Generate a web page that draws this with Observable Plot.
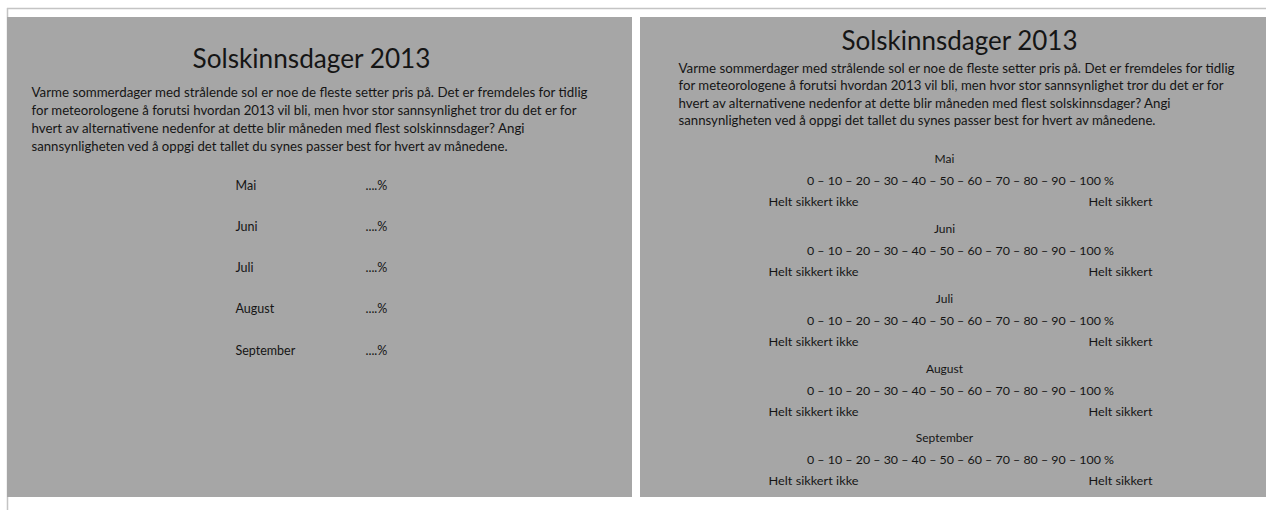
<!DOCTYPE html>
<html>
<head>
<meta charset="utf-8">
<script src="https://cdn.jsdelivr.net/npm/d3@7"></script>
<script src="https://cdn.jsdelivr.net/npm/@observablehq/plot@0.6"></script>
<style>
  html, body { margin: 0; padding: 0; background: #fff; overflow: hidden; }
  svg { display: block; }
</style>
</head>
<body>
<div id="chart"></div>
<script>
// ---- content (data) ----
const title = "Solskinnsdager 2013";
const bodyLines = [
  "Varme sommerdager med strålende sol er noe de fleste setter pris på. Det er fremdeles for tidlig",
  "for meteorologene å forutsi hvordan 2013 vil bli, men hvor stor sannsynlighet tror du det er for",
  "hvert av alternativene nedenfor at dette blir måneden med flest solskinnsdager? Angi",
  "sannsynligheten ved å oppgi det tallet du synes passer best for hvert av månedene."
];
const months = ["Mai", "Juni", "Juli", "August", "September"];
const blankAnswer = "....%";
const scaleTicks = [0, 10, 20, 30, 40, 50, 60, 70, 80, 90, 100];
const scaleUnit = "%";
const anchorLabels = ["Helt sikkert ikke", "Helt sikkert"];

// ---- layout (positions / sizes / styles) ----
const W = 1266, H = 510;
const panelFill = "#a6a6a6";
const ink = "#151515";
const font = "Lato, 'Open Sans', sans-serif";
const panels = [
  {x1: 7, x2: 632, y1: 17, y2: 497, cx: 311, titleY: 59, titleW: 238, textX: 31, bodyY: 92, lineH: 18.2, bodyW: [556, 545, 493, 476]},
  {x1: 640, x2: 1266, y1: 17, y2: 497, cx: 959, titleY: 41, titleW: 236, textX: 678, bodyY: 68, lineH: 17.6, bodyW: [556, 545, 492, 477]}
];
const left = {labelX: 235, answerX: 365, top: 185, step: 41.3};
const right = {monthX: 944, scaleX: 960, anchorL: 768, anchorR: 1152, top: 159, step: 69.75, scaleDy: 22, anchorDy: 43, scaleW: 307, anchorW: [90, 64]};

const scaleText = scaleTicks.join(" – ") + " " + scaleUnit;

const plot = Plot.plot({
  width: W,
  height: H,
  margin: 0,
  x: {domain: [0, W], range: [0, W], axis: null},
  y: {domain: [0, H], range: [0, H], axis: null},
  style: {background: "#fff", fontFamily: font, color: ink},
  marks: [
    Plot.ruleY([8], {x1: 7, x2: W, stroke: "#c4c4c4", strokeWidth: 1.5}),
    Plot.ruleX([7], {y1: 8, y2: H, stroke: "#c4c4c4", strokeWidth: 1.5}),
    Plot.rect(panels, {x1: "x1", x2: "x2", y1: "y1", y2: "y2", fill: panelFill}),
    Plot.text(panels, {x: "cx", y: "titleY", text: () => title, fontSize: 26, fill: ink, ariaLabel: () => "titles"}),
    Plot.text(bodyLines, {x: () => panels[0].textX, y: (d, i) => panels[0].bodyY + i * panels[0].lineH, text: d => d, textAnchor: "start", fontSize: 13, fill: ink, ariaLabel: () => "body-left"}),
    Plot.text(bodyLines, {x: () => panels[1].textX, y: (d, i) => panels[1].bodyY + i * panels[1].lineH, text: d => d, textAnchor: "start", fontSize: 13, fill: ink, ariaLabel: () => "body-right"}),
    // left slide: month list with blanks
    Plot.text(months, {x: () => left.labelX, y: (d, i) => left.top + i * left.step, text: d => d, textAnchor: "start", fontSize: 12.5, fill: ink}),
    Plot.text(months, {x: () => left.answerX, y: (d, i) => left.top + i * left.step, text: () => blankAnswer, textAnchor: "start", fontSize: 12.5, fill: ink}),
    // right slide: month + probability scale + anchors
    Plot.text(months, {x: () => right.monthX, y: (d, i) => right.top + i * right.step, text: d => d, fontSize: 12, fill: ink}),
    Plot.text(months, {x: () => right.scaleX, y: (d, i) => right.top + i * right.step + right.scaleDy, text: () => scaleText, fontSize: 12, fill: ink, ariaLabel: () => "scale"}),
    Plot.text(months, {x: () => right.anchorL, y: (d, i) => right.top + i * right.step + right.anchorDy, text: () => anchorLabels[0], textAnchor: "start", fontSize: 12, fill: ink, ariaLabel: () => "anchor-left"}),
    Plot.text(months, {x: () => right.anchorR, y: (d, i) => right.top + i * right.step + right.anchorDy, text: () => anchorLabels[1], textAnchor: "end", fontSize: 12, fill: ink, ariaLabel: () => "anchor-right"})
  ]
});

const svg = d3.select(plot);
function fit(label, widthFn) {
  svg.selectAll(`text[aria-label="${label}"], g[aria-label="${label}"] text`).each(function(d, i) {
    this.setAttribute("textLength", widthFn(i));
    this.setAttribute("lengthAdjust", "spacingAndGlyphs");
  });
}
fit("titles", i => panels[i].titleW);
fit("body-left", i => panels[0].bodyW[i]);
fit("body-right", i => panels[1].bodyW[i]);
fit("scale", () => right.scaleW);
fit("anchor-left", () => right.anchorW[0]);
fit("anchor-right", () => right.anchorW[1]);

document.getElementById("chart").appendChild(plot);
</script>
</body>
</html>
